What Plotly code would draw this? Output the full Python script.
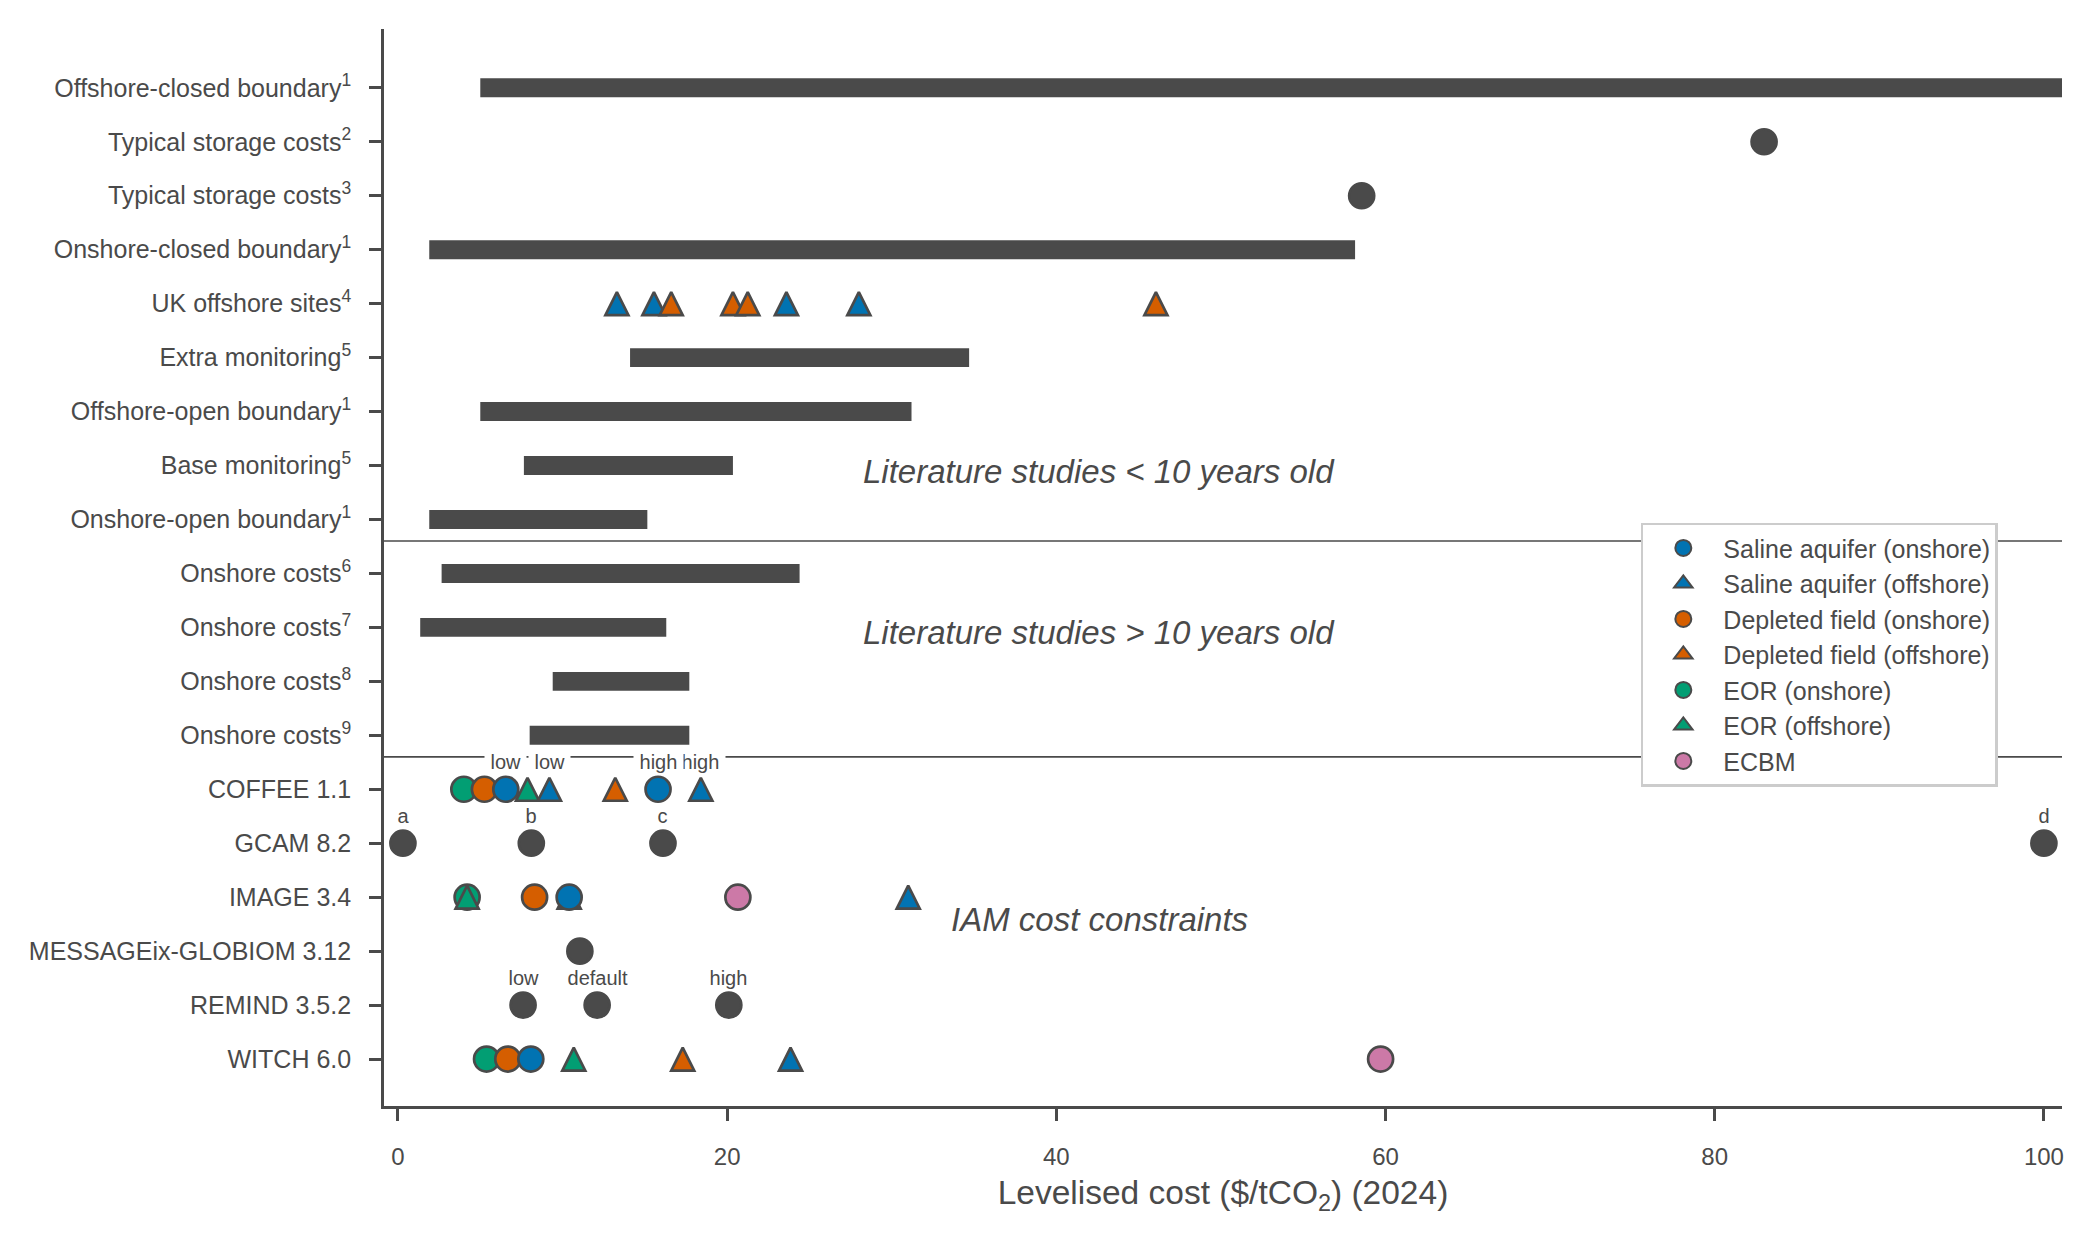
import plotly.graph_objects as go

# ---------------- data ----------------
categories = [
    "Offshore-closed boundary<sup>1</sup>",
    "Typical storage costs<sup>2</sup>",
    "Typical storage costs<sup>3</sup>",
    "Onshore-closed boundary<sup>1</sup>",
    "UK offshore sites<sup>4</sup>",
    "Extra monitoring<sup>5</sup>",
    "Offshore-open boundary<sup>1</sup>",
    "Base monitoring<sup>5</sup>",
    "Onshore-open boundary<sup>1</sup>",
    "Onshore costs<sup>6</sup>",
    "Onshore costs<sup>7</sup>",
    "Onshore costs<sup>8</sup>",
    "Onshore costs<sup>9</sup>",
    "COFFEE 1.1",
    "GCAM 8.2",
    "IMAGE 3.4",
    "MESSAGEix-GLOBIOM 3.12",
    "REMIND 3.5.2",
    "WITCH 6.0",
]

# cost ranges (bars)
range_cat = [0, 3, 5, 6, 7, 8, 9, 10, 11, 12]
range_low = [5.0, 1.9, 14.1, 5.0, 7.65, 1.9, 2.65, 1.35, 9.4, 8.0]
range_high = [105.0, 58.15, 34.7, 31.2, 20.35, 15.15, 24.4, 16.3, 17.7, 17.7]  # first one runs off the axis

# single point estimates (grey dots)
grey_cat = [1, 2, 14, 14, 14, 14, 16, 17, 17, 17]
grey_val = [83.0, 58.55, 0.3, 8.1, 16.1, 100.0, 11.05, 7.6, 12.1, 20.1]
grey_tag = ["", "", "a", "b", "c", "d", "", "low", "default", "high"]

# storage types
saline_on_cat = [13, 13, 15, 18]
saline_on_val = [6.55, 15.8, 10.4, 8.07]
saline_on_tag = ["low", "high", "", ""]

saline_off_cat = [4, 4, 4, 4, 13, 13, 15, 15, 18]
saline_off_val = [13.3, 15.55, 23.6, 28.0, 9.2, 18.4, 10.4, 31.0, 23.85]
saline_off_tag = ["", "", "", "", "low", "high", "", "", ""]

depleted_on_cat = [13, 15, 18]
depleted_on_val = [5.25, 8.3, 6.67]

depleted_off_cat = [4, 4, 4, 4, 13, 18]
depleted_off_val = [16.6, 20.35, 21.25, 46.05, 13.2, 17.3]

eor_on_cat = [13, 15, 18]
eor_on_val = [4.0, 4.2, 5.38]

eor_off_cat = [13, 15, 18]
eor_off_val = [7.87, 4.2, 10.68]

ecbm_cat = [15, 18]
ecbm_val = [20.65, 59.7]

x_ticks = [0, 20, 40, 60, 80, 100]

# ---------------- style ----------------
GREY = "#4a4a4a"
BLUE = "#0173B2"
ORANGE = "#D55E00"
GREEN = "#029E73"
PINK = "#CC79A7"
FONT = "Liberation Sans, Arial, sans-serif"

CIRC = 25
TRI = 23
LW = 2.7

M_L, M_R, M_T, M_B = 376, 41, 21, 147
Y_RANGE = [18.87, -1.09]
PLOT_H = 1245 - M_T - M_B
PX_PER_ROW = PLOT_H / (Y_RANGE[0] - Y_RANGE[1])
TRI_SHIFT = (TRI / 2) / PX_PER_ROW   # centres the arrow-shaped triangle on its row

fig = go.Figure()

fig.add_trace(go.Bar(
    orientation="h",
    y=range_cat,
    x=[h - l for l, h in zip(range_low, range_high)],
    base=range_low,
    width=0.35,
    marker=dict(color=GREY, line=dict(width=0)),
    showlegend=False, hoverinfo="skip",
))

fig.add_trace(go.Scatter(
    x=grey_val, y=grey_cat, mode="markers",
    marker=dict(symbol="circle", size=CIRC, color=GREY, line=dict(color=GREY, width=LW)),
    showlegend=False,
))


def circles(xv, yv, color, yaxis="y"):
    return go.Scatter(
        x=xv, y=yv, mode="markers", yaxis=yaxis,
        marker=dict(symbol="circle", size=CIRC, color=color, line=dict(color=GREY, width=LW)),
        showlegend=False,
    )


def triangles(xv, yv, color):
    return go.Scatter(
        x=xv, y=yv, mode="markers", yaxis="y2",
        marker=dict(symbol="arrow-up", size=TRI, color=color, line=dict(color=GREY, width=LW)),
        showlegend=False,
    )


fig.add_trace(circles(eor_on_val, eor_on_cat, GREEN))
fig.add_trace(circles(depleted_on_val, depleted_on_cat, ORANGE))
fig.add_trace(circles(ecbm_val, ecbm_cat, PINK))

fig.add_trace(triangles(eor_off_val, eor_off_cat, GREEN))
fig.add_trace(triangles(saline_off_val, saline_off_cat, BLUE))
fig.add_trace(triangles(depleted_off_val, depleted_off_cat, ORANGE))

fig.add_trace(circles(saline_on_val, saline_on_cat, BLUE, yaxis="y3"))

# legend entries
legend_items = [
    ("Saline aquifer (onshore)", "circle", BLUE),
    ("Saline aquifer (offshore)", "triangle-up", BLUE),
    ("Depleted field (onshore)", "circle", ORANGE),
    ("Depleted field (offshore)", "triangle-up", ORANGE),
    ("EOR (onshore)", "circle", GREEN),
    ("EOR (offshore)", "triangle-up", GREEN),
    ("ECBM", "circle", PINK),
]
for name, sym, col in legend_items:
    fig.add_trace(go.Scatter(
        x=[None], y=[None], mode="markers", name=name,
        marker=dict(symbol=sym, size=16, color=col, line=dict(color=GREY, width=2)),
    ))

# ---------------- annotations ----------------
annotations = []


def add_tags(vals, cats, tags):
    for v, c, t in zip(vals, cats, tags):
        if t:
            annotations.append(dict(
                x=v, y=c - 0.5, xref="x", yref="y", text="\u00a0" + t + "\u00a0",
                showarrow=False, bgcolor="white", borderpad=0,
                font=dict(family=FONT, size=20, color=GREY),
            ))


add_tags(saline_off_val[::-1], saline_off_cat[::-1], saline_off_tag[::-1])
add_tags(saline_on_val, saline_on_cat, saline_on_tag)
add_tags(grey_val, grey_cat, grey_tag)

for txt, yy in [("Literature studies < 10 years old", 7.11),
                ("Literature studies > 10 years old", 10.09),
                ("IAM cost constraints", 15.42)]:
    annotations.append(dict(
        x=42.6, y=yy, xref="x", yref="y", text="<i>" + txt + "</i>",
        showarrow=False, font=dict(family=FONT, size=33, color=GREY),
    ))

shapes = [
    dict(type="line", xref="paper", x0=0, x1=1, yref="y", y0=yy, y1=yy,
         line=dict(color=GREY, width=1.6), layer="below")
    for yy in (8.4, 12.4)
]

axis_common = dict(
    showline=True, linecolor=GREY, linewidth=2.7,
    ticks="outside", ticklen=12, tickwidth=2.5, tickcolor=GREY,
    showgrid=False, zeroline=False,
)

fig.update_layout(
    width=2095, height=1245,
    margin=dict(l=M_L, r=M_R, t=M_T, b=M_B),
    paper_bgcolor="white", plot_bgcolor="white",
    font=dict(family=FONT, color=GREY),
    xaxis=dict(
        range=[-0.85, 101.1], tickvals=x_ticks, ticktext=[str(t) for t in x_ticks],
        title=dict(text="Levelised cost ($/tCO<sub>2</sub>) (2024)",
                   font=dict(family=FONT, size=33.5, color=GREY), standoff=12),
        ticklabelstandoff=15,
        tickfont=dict(family=FONT, size=24, color=GREY),
        **axis_common,
    ),
    yaxis=dict(
        range=Y_RANGE, tickvals=list(range(len(categories))), ticktext=categories,
        ticklabelstandoff=13,
        tickfont=dict(family=FONT, size=25, color=GREY),
        **axis_common,
    ),
    yaxis2=dict(
        overlaying="y", range=[Y_RANGE[0] + TRI_SHIFT, Y_RANGE[1] + TRI_SHIFT],
        visible=False,
    ),
    yaxis3=dict(overlaying="y", range=Y_RANGE, visible=False),
    legend=dict(
        x=0.749, y=0.5416, xanchor="left", yanchor="top",
        bgcolor="white", bordercolor="#cccccc", borderwidth=2.5,
        font=dict(family=FONT, size=25, color=GREY),
        tracegroupgap=0, itemwidth=70,
    ),
    annotations=annotations,
    shapes=shapes,
    showlegend=True,
)

fig.write_html("out.html")
